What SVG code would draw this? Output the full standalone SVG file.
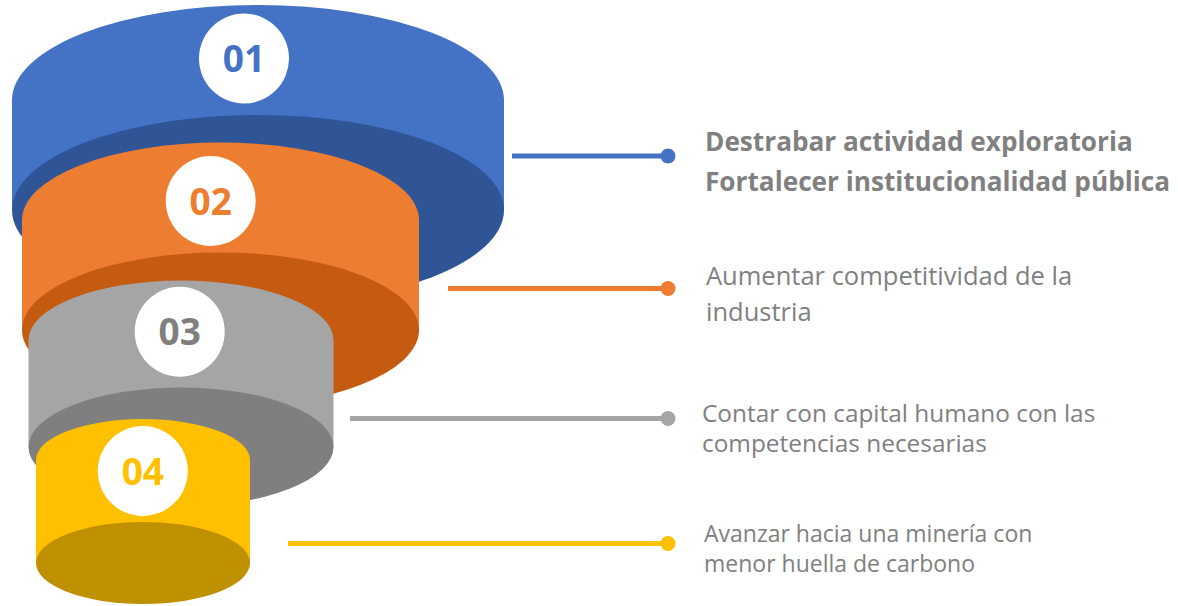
<svg xmlns="http://www.w3.org/2000/svg" width="1178" height="606" viewBox="0 0 1178 606">
<style>
.num{font-family:"Open Sans","Liberation Sans",sans-serif;font-weight:bold;font-size:37px;text-anchor:middle}
.lbl{font-family:"Open Sans","Liberation Sans",sans-serif;fill:#808080}
.lblb{font-family:"Open Sans","Liberation Sans",sans-serif;font-size:26.2px;font-weight:bold;fill:#808080}
.ln{stroke-width:5;fill:none}
</style>
<rect width="1178" height="606" fill="#ffffff"/>
<g id="connectors">
<line class="ln" x1="512" y1="156" x2="668" y2="156" stroke="#4472C4"/><circle cx="668" cy="156" r="7.5" fill="#4472C4"/>
<line class="ln" x1="448" y1="288.5" x2="668" y2="288.5" stroke="#ED7D31"/><circle cx="668" cy="288.5" r="7.5" fill="#ED7D31"/>
<line class="ln" x1="350" y1="418.5" x2="668" y2="418.5" stroke="#A5A5A5"/><circle cx="668" cy="418.5" r="7.5" fill="#A5A5A5"/>
<line class="ln" x1="288" y1="543.5" x2="668" y2="543.5" stroke="#FFC000"/><circle cx="668" cy="543.5" r="7.5" fill="#FFC000"/>
</g>
<g id="node1">
<path d="M12,100 A246,95 0 0 1 504,100 L504,210 L12,210 Z" fill="#4472C4"/>
<ellipse cx="258" cy="210" rx="246" ry="95" fill="#2F5597"/>
<circle cx="244" cy="58.5" r="45" fill="#ffffff"/>
<text class="num" x="244" y="72" fill="#4472C4">01</text>
</g>
<g id="node2">
<path d="M22,220 A198.5,77.5 0 0 1 419,220 L419,330 L22,330 Z" fill="#ED7D31"/>
<ellipse cx="220.5" cy="330" rx="198.5" ry="77.5" fill="#C55A11"/>
<circle cx="210.7" cy="201" r="45" fill="#ffffff"/>
<text class="num" x="210.7" y="214.5" fill="#ED7D31">02</text>
</g>
<g id="node3">
<path d="M28.5,340 A152.5,59.5 0 0 1 333.5,340 L333.5,447 L28.5,447 Z" fill="#A5A5A5"/>
<ellipse cx="181" cy="447" rx="152.5" ry="59.5" fill="#7F7F7F"/>
<circle cx="179.7" cy="331.7" r="45" fill="#ffffff"/>
<text class="num" x="179.7" y="345" fill="#7F7F7F">03</text>
</g>
<g id="node4">
<path d="M36,460 A107,41 0 0 1 250,460 L250,563 L36,563 Z" fill="#FFC000"/>
<ellipse cx="143" cy="563" rx="107" ry="41" fill="#BF9000"/>
<circle cx="142.8" cy="471" r="45" fill="#ffffff"/>
<text class="num" x="142.8" y="484.5" fill="#FFC000">04</text>
</g>
<g id="labels">
<text class="lblb" x="705" y="150.7">Destrabar actividad exploratoria</text>
<text class="lblb" x="705" y="190.7">Fortalecer institucionalidad pública</text>
<text class="lbl" x="706" y="285" font-size="25.5">Aumentar competitividad de la</text>
<text class="lbl" x="706" y="321" font-size="25.5">industria</text>
<text class="lbl" x="702" y="422" font-size="24.4">Contar con capital humano con las</text>
<text class="lbl" x="702" y="452" font-size="24.4">competencias necesarias</text>
<text class="lbl" x="704" y="541.7" font-size="23">Avanzar hacia una minería con</text>
<text class="lbl" x="704" y="571.7" font-size="23">menor huella de carbono</text>
</g>
</svg>
